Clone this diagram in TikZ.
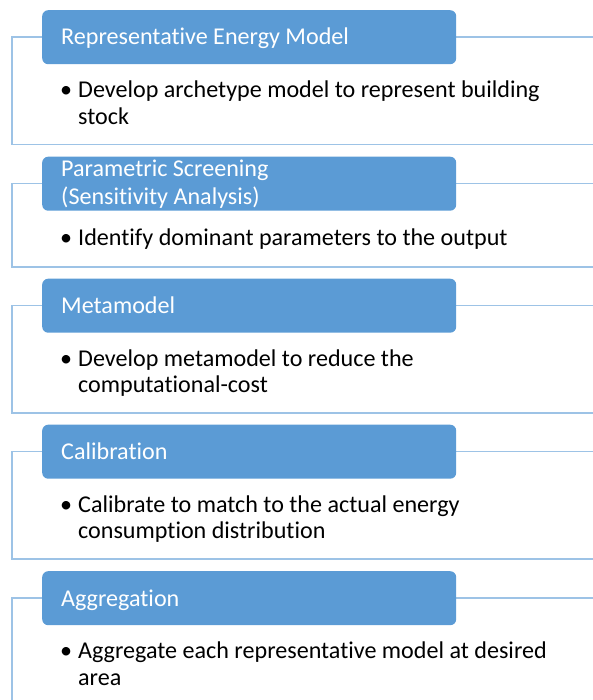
\documentclass[tikz,border=0pt]{standalone}
\usepackage{fontspec}
\setmainfont{Carlito}[Ligatures={NoCommon}]
\definecolor{hdrblue}{HTML}{5B9BD5}
\definecolor{bracketblue}{HTML}{9DC3E6}
\begin{document}
\begin{tikzpicture}[x=1pt,y=-1pt,
  headerbox/.style={fill=hdrblue, draw=none, rounded corners=6pt,
    minimum width=414pt, minimum height=54pt, anchor=north west, inner sep=0pt},
  hdrtext/.style={text=white, font=\fontsize{24.1}{28.3}\selectfont,
    anchor=base west, inner sep=0pt},
  bodytext/.style={text=black, font=\fontsize{24.1}{26.6}\selectfont,
    anchor=base west, inner sep=0pt},
  bracket/.style={draw=bracketblue, line width=1.5pt}]
\useasboundingbox (0,0) rectangle (593,700);
\clip (0,0) rectangle (593,700);

% 1: Representative Energy Model
\draw[bracket] (12,37) rectangle (600,144.5);
\node[headerbox] (h1) at (42,10) {};
\node[hdrtext] (h1t) at (61,45) {Representative Energy Model};
\node[bodytext] (b1a) at (60,97.7) {•};
\node[bodytext] (b1b) at (78,97.7) {Develop archetype model to represent building};
\node[bodytext] (b1c) at (78,124.3) {stock};

% 2: Parametric Screening
\draw[bracket] (12,183.5) rectangle (600,267);
\node[headerbox] (h2) at (42,156.5) {};
\node[hdrtext] (h2t) at (61,176.7) {Parametric Screening};
\node[hdrtext] (h2u) at (61,205) {(Sensitivity Analysis)};
\node[bodytext] (b2a) at (60,245.5) {•};
\node[bodytext] (b2b) at (78,245.5) {Identify dominant parameters to the output};

% 3: Metamodel
\draw[bracket] (12,305.5) rectangle (600,413);
\node[headerbox] (h3) at (42,278.5) {};
\node[hdrtext] (h3t) at (61,313.5) {Metamodel};
\node[bodytext] (b3a) at (60,366.2) {•};
\node[bodytext] (b3b) at (78,366.2) {Develop metamodel to reduce the};
\node[bodytext] (b3c) at (78,392.8) {computational-cost};

% 4: Calibration
\draw[bracket] (12,451.5) rectangle (600,559);
\node[headerbox] (h4) at (42,424.5) {};
\node[hdrtext] (h4t) at (61,459.5) {Calibration};
\node[bodytext] (b4a) at (60,512.2) {•};
\node[bodytext] (b4b) at (78,512.2) {Calibrate to match to the actual energy};
\node[bodytext] (b4c) at (78,538.8) {consumption distribution};

% 5: Aggregation
\draw[bracket] (12,598) rectangle (600,720);
\node[headerbox] (h5) at (42,571) {};
\node[hdrtext] (h5t) at (61,606) {Aggregation};
\node[bodytext] (b5a) at (60,658.7) {•};
\node[bodytext] (b5b) at (78,658.7) {Aggregate each representative model at desired};
\node[bodytext] (b5c) at (78,685.3) {area};
\end{tikzpicture}
\end{document}
